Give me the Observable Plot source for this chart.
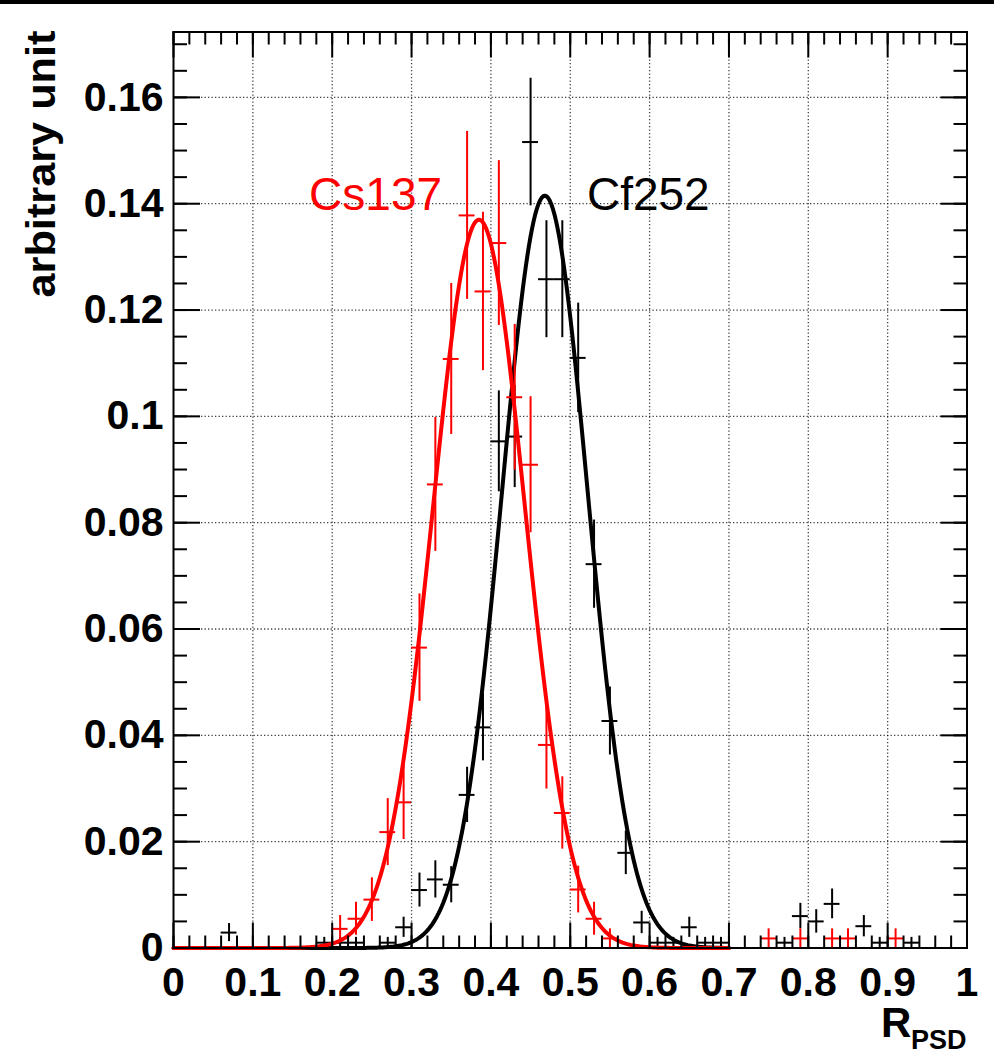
<!DOCTYPE html>
<html>
<head>
<meta charset="utf-8">
<script src="https://cdn.jsdelivr.net/npm/d3@7"></script>
<script src="https://cdn.jsdelivr.net/npm/@observablehq/plot@0.6"></script>
<style>
  html, body { margin: 0; padding: 0; background: #fff; }
  #chart { position: relative; width: 994px; height: 1055px; }
  #topbar { position: absolute; left: 0; top: 0; width: 994px; height: 4px; background: #000; }
</style>
</head>
<body>
<div id="chart"></div>
<div id="topbar"></div>
<script>
// ---------------- data ----------------
const binWidth = 0.02;

// Cs137 (red) histogram: bin centres, contents, errors
const csX   = [0.21, 0.23, 0.25, 0.27, 0.29, 0.31, 0.33, 0.35, 0.37, 0.39, 0.41, 0.43, 0.45, 0.47, 0.49, 0.51, 0.53, 0.55, 0.75, 0.79, 0.83, 0.85, 0.91];
const csY   = [0.0036, 0.0055, 0.0091, 0.0218, 0.0274, 0.0565, 0.0872, 0.1108, 0.1378, 0.1235, 0.1326, 0.1036, 0.0909, 0.0382, 0.0254, 0.0110, 0.0055, 0.0018, 0.0018, 0.0018, 0.0018, 0.0018, 0.0018];
const csErr = [0.0025, 0.0031, 0.0041, 0.0063, 0.0070, 0.0101, 0.0126, 0.0142, 0.0158, 0.0149, 0.0155, 0.0137, 0.0128, 0.0083, 0.0068, 0.0044, 0.0031, 0.0018, 0.0018, 0.0018, 0.0018, 0.0018, 0.0018];

// Cf252 (black) histogram
const cfX   = [0.07, 0.19, 0.21, 0.23, 0.27, 0.29, 0.31, 0.33, 0.35, 0.37, 0.39, 0.41, 0.43, 0.45, 0.47, 0.49, 0.51, 0.53, 0.55, 0.57, 0.59, 0.61, 0.63, 0.65, 0.67, 0.69, 0.77, 0.79, 0.81, 0.83, 0.87, 0.89, 0.93];
const cfY   = [0.0029, 0.0010, 0.0010, 0.0010, 0.0010, 0.0039, 0.0109, 0.0129, 0.0119, 0.0288, 0.0415, 0.0953, 0.0962, 0.1516, 0.1258, 0.1258, 0.1110, 0.0722, 0.0427, 0.0179, 0.0048, 0.0010, 0.0010, 0.0039, 0.0010, 0.0010, 0.0010, 0.0060, 0.0050, 0.0083, 0.0041, 0.0010, 0.0010];
const cfErr = [0.0017, 0.0010, 0.0010, 0.0010, 0.0010, 0.0019, 0.0032, 0.0035, 0.0034, 0.0052, 0.0063, 0.0095, 0.0096, 0.0120, 0.0110, 0.0110, 0.0103, 0.0083, 0.0064, 0.0041, 0.0021, 0.0010, 0.0010, 0.0019, 0.0010, 0.0010, 0.0010, 0.0024, 0.0022, 0.0028, 0.0020, 0.0010, 0.0010];

// Gaussian fit parameters (amplitude, mean, sigma) and fit range
const csFit = [0.137, 0.385, 0.0578];
const cfFit = [0.1415, 0.468, 0.0540];
const fitRange = [0, 0.7];

const seriesNames = ["Cs137", "Cf252"];
const seriesColors = ["#ff0000", "#000000"];

// axes
const xTicks  = [0, 0.1, 0.2, 0.3, 0.4, 0.5, 0.6, 0.7, 0.8, 0.9, 1];
const xLabels = ["0", "0.1", "0.2", "0.3", "0.4", "0.5", "0.6", "0.7", "0.8", "0.9", "1"];
const yTicks  = [0, 0.02, 0.04, 0.06, 0.08, 0.1, 0.12, 0.14, 0.16];
const yLabels = ["0", "0.02", "0.04", "0.06", "0.08", "0.1", "0.12", "0.14", "0.16"];
const xTitle = "R";
const xTitleSub = "PSD";
const yTitle = "arbitrary unit";

// ---------------- build ----------------
const xDomain = [0, 1];
const yDomain = [0, 0.1723];
const xMinor = d3.range(0, 51).map(i => +(i * 0.02).toFixed(4));
const yMinor = d3.range(0, 35).map(i => +(i * 0.005).toFixed(4));
const xLabelMap = new Map(xTicks.map((v, i) => [v, xLabels[i]]));
const yLabelMap = new Map(yTicks.map((v, i) => [v, yLabels[i]]));
const xGrid = xTicks.filter(v => v > 0 && v < 1);
const yGrid = yTicks.filter(v => v > 0);

const rows = (xs, ys, es) => xs.map((x, i) => ({x, y: ys[i], e: es[i]}));
const csRows = rows(csX, csY, csErr);
const cfRows = rows(cfX, cfY, cfErr);

const gauss = (x, p) => p[0] * Math.exp(-0.5 * ((x - p[1]) / p[2]) ** 2);
const fitXs = d3.range(fitRange[0], fitRange[1] + 1e-9, 0.002);

const FONT = "'Liberation Sans', Arial, Helvetica, sans-serif";
const gridStyle = {stroke: "#000", strokeOpacity: 0.75, strokeWidth: 1.3, strokeDasharray: "1.3,2.2"};

function histMarks(data, color) {
  return [
    Plot.ruleX(data, {x: "x", y1: d => Math.max(0, d.y - d.e), y2: d => d.y + d.e, stroke: color, strokeWidth: 2}),
    Plot.ruleY(data, {y: "y", x1: d => d.x - binWidth / 2, x2: d => d.x + binWidth / 2, stroke: color, strokeWidth: 2})
  ];
}

const noText = () => "";
const tickStyle = {stroke: "#000", strokeWidth: 2, label: null, tickFormat: noText};

// inward tick marks: anchor opposite to the frame side they sit on
function inwardTicksX(side, ticks, size) {
  return Plot.axisX({anchor: side === "bottom" ? "top" : "bottom", frameAnchor: side, ticks, tickSize: size, ...tickStyle});
}
function inwardTicksY(side, ticks, size) {
  return Plot.axisY({anchor: side === "left" ? "right" : "left", frameAnchor: side, ticks, tickSize: size, ...tickStyle});
}

const chart = Plot.plot({
  width: 994,
  height: 1055,
  marginLeft: 173,
  marginRight: 27.5,
  marginTop: 31.5,
  marginBottom: 107.5,
  x: {domain: xDomain},
  y: {domain: yDomain},
  style: {fontFamily: FONT, background: "#fff", color: "#000", overflow: "visible"},
  marks: [
    Plot.gridX({ticks: xGrid, ...gridStyle}),
    Plot.gridY({ticks: yGrid, ...gridStyle}),

    ...histMarks(cfRows, seriesColors[1]),
    Plot.line(fitXs, {x: d => d, y: d => gauss(d, cfFit), stroke: seriesColors[1], strokeWidth: 4}),
    ...histMarks(csRows, seriesColors[0]),
    Plot.line(fitXs, {x: d => d, y: d => gauss(d, csFit), stroke: seriesColors[0], strokeWidth: 4}),

    Plot.frame({stroke: "#000", strokeWidth: 2}),

    // tick marks (inward, all four sides)
    inwardTicksX("bottom", xTicks, 26), inwardTicksX("bottom", xMinor, 13),
    inwardTicksX("top", xTicks, 26),    inwardTicksX("top", xMinor, 13),
    inwardTicksY("left", yTicks, 26),   inwardTicksY("left", yMinor, 13),
    inwardTicksY("right", yTicks, 26),  inwardTicksY("right", yMinor, 13),

    // tick labels
    Plot.axisX({anchor: "bottom", ticks: xTicks, tickSize: 0, tickPadding: 18.5, tickFormat: d => xLabelMap.get(d),
      fontSize: 41, fontWeight: "bold", label: null}),
    Plot.axisY({anchor: "left", ticks: yTicks, tickSize: 0, tickPadding: 10, tickFormat: d => yLabelMap.get(d),
      fontSize: 41, fontWeight: "bold", label: null}),

    // series labels
    Plot.text([seriesNames[0]], {x: 0.2547, y: 0.1415, text: d => d, fill: seriesColors[0], fontSize: 46, textAnchor: "middle", lineAnchor: "middle"}),
    Plot.text([seriesNames[1]], {x: 0.5984, y: 0.1415, text: d => d, fill: seriesColors[1], fontSize: 46, textAnchor: "middle", lineAnchor: "middle"}),

    // axis titles
    Plot.text([yTitle], {frameAnchor: "top-left", text: d => d, rotate: -90, textAnchor: "end", lineAnchor: "middle",
      dx: -131, dy: -1.5, fontSize: 40, fontWeight: "bold"}),
    Plot.text([xTitle], {frameAnchor: "bottom-right", text: d => d, textAnchor: "start", lineAnchor: "middle",
      dx: -86, dy: 76, fontSize: 42, fontWeight: "bold"}),
    Plot.text([xTitleSub], {frameAnchor: "bottom-right", text: d => d, textAnchor: "start", lineAnchor: "middle",
      dx: -56, dy: 92, fontSize: 27, fontWeight: "bold"})
  ]
});

d3.select(chart).selectAll("text").filter(function () { return this.textContent === yTitle; })
  .attr("textLength", 267).attr("lengthAdjust", "spacingAndGlyphs");

document.getElementById("chart").appendChild(chart);
</script>
</body>
</html>
